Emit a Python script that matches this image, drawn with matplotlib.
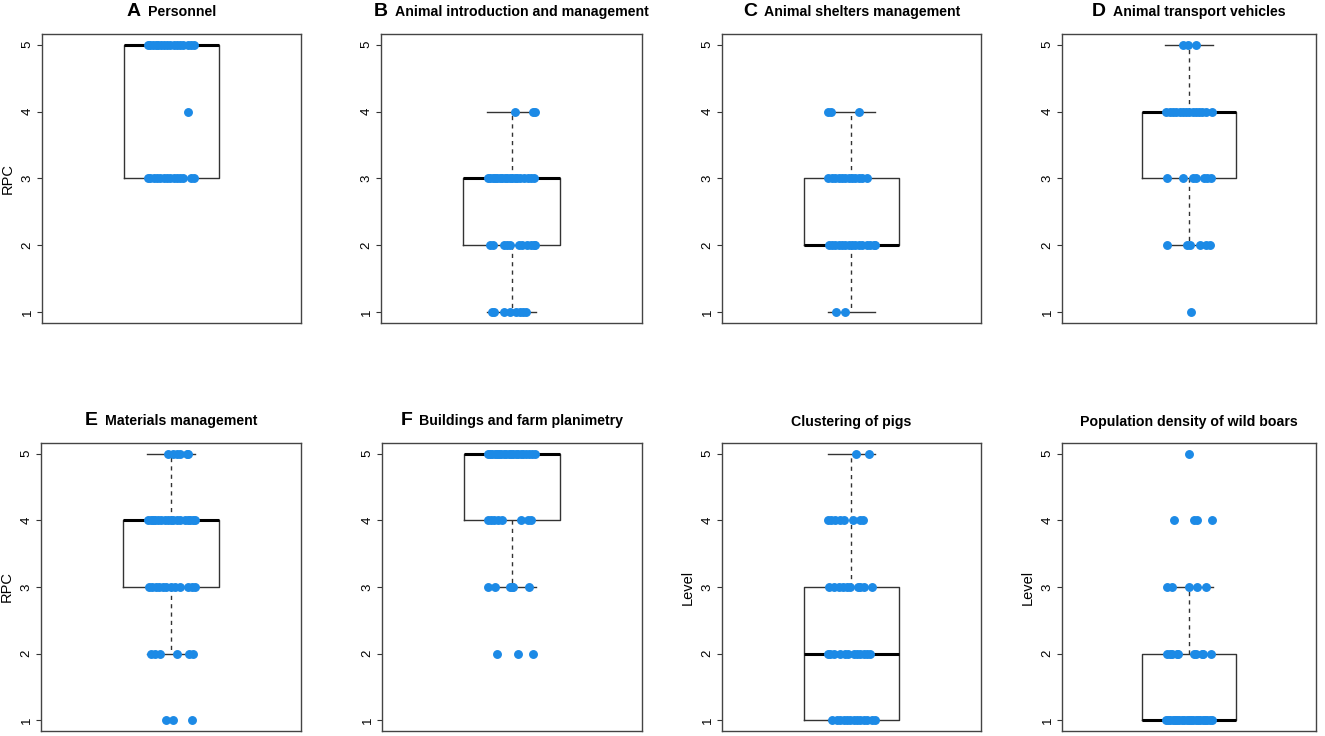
import math
import numpy as np
import matplotlib.pyplot as plt
from matplotlib.offsetbox import TextArea, HPacker, AnchoredOffsetbox

plt.rcParams['font.family'] = ['Liberation Sans', 'DejaVu Sans']

# panel letters, titles, y labels
letters = ["A", "B", "C", "D", "E", "F", "", ""]
titles = ["Personnel", "Animal introduction and management", "Animal shelters management",
          "Animal transport vehicles", "Materials management", "Buildings and farm planimetry",
          "Clustering of pigs", "Population density of wild boars"]
ylabels = ["RPC", "", "", "", "RPC", "", "Level", "Level"]

# jitter offsets, one list per score level (1..5)
jit_A = {5: [-0.098, -0.088, -0.077, -0.066, -0.055, -0.044, -0.033, -0.019, -0.005, 0.009, 0.023, 0.037, 0.048, 0.067, 0.081, 0.092],
         4: [0.067],
         3: [-0.098, -0.088, -0.074, -0.06, -0.047, -0.033, -0.019, -0.005, 0.009, 0.023, 0.037, 0.048, 0.081, 0.092]}
jit_B = {4: [0.016, 0.088, 0.097],
         3: [-0.098, -0.088, -0.078, -0.068, -0.058, -0.048, -0.038, -0.028, -0.018, -0.008, 0.004, 0.014, 0.024, 0.034, 0.05, 0.07, 0.08, 0.094],
         2: [-0.091, -0.077, -0.033, -0.019, -0.008, 0.03, 0.044, 0.065, 0.079, 0.092, 0.099],
         1: [-0.081, -0.074, -0.03, -0.008, 0.02, 0.034, 0.048, 0.062]}
jit_C = {4: [-0.1, -0.086, 0.03],
         3: [-0.098, -0.081, -0.067, -0.054, -0.04, -0.026, -0.012, 0.002, 0.016, 0.03, 0.044, 0.065],
         2: [-0.095, -0.081, -0.067, -0.054, -0.04, -0.026, -0.012, 0.002, 0.016, 0.03, 0.044, 0.065, 0.079, 0.092, 0.099],
         1: [-0.063, -0.029]}
jit_D = {5: [-0.026, -0.006, 0.029],
         4: [-0.096, -0.082, -0.068, -0.054, -0.04, -0.026, -0.013, 0.001, 0.015, 0.029, 0.043, 0.057, 0.071, 0.099],
         3: [-0.093, -0.026, 0.015, 0.029, 0.064, 0.078, 0.092],
         2: [-0.093, -0.008, 0.006, 0.047, 0.071, 0.089],
         1: [0.008]}
jit_E = {5: [-0.012, 0.009, 0.023, 0.037, 0.065, 0.072],
         4: [-0.095, -0.081, -0.074, -0.067, -0.054, -0.04, -0.026, -0.012, -0.002, 0.009, 0.023, 0.037, 0.058, 0.072, 0.081, 0.092, 0.099],
         3: [-0.091, -0.077, -0.063, -0.049, -0.035, -0.022, 0.002, 0.016, 0.037, 0.072, 0.086, 0.099],
         2: [-0.081, -0.067, -0.044, 0.023, 0.076, 0.09],
         1: [-0.019, 0.009, 0.086]}
jit_F = {5: [-0.098, -0.09, -0.081, -0.072, -0.062, -0.052, -0.044, -0.034, -0.024, -0.014, -0.004, 0.006, 0.016, 0.026, 0.036, 0.046, 0.058, 0.07, 0.082, 0.097],
         4: [-0.099, -0.088, -0.074, -0.06, -0.04, 0.037, 0.065, 0.079],
         3: [-0.098, -0.07, -0.008, -0.001, 0.006, 0.072],
         2: [-0.063, 0.023, 0.086]}
jit_G = {5: [0.019, 0.072],
         4: [-0.099, -0.086, -0.067, -0.047, -0.033, 0.006, 0.034, 0.047],
         3: [-0.092, -0.072, -0.054, -0.037, -0.019, -0.005, 0.026, 0.037, 0.051, 0.086],
         2: [-0.099, -0.091, -0.074, -0.047, -0.026, -0.016, 0.009, 0.023, 0.037, 0.051, 0.065, 0.079],
         1: [-0.081, -0.06, -0.047, -0.033, -0.019, -0.005, 0.009, 0.023, 0.037, 0.051, 0.065, 0.086, 0.099]}
jit_H = {5: [-0.001],
         4: [-0.065, 0.022, 0.033, 0.099],
         3: [-0.092, -0.071, 0.001, 0.033, 0.071],
         2: [-0.092, -0.082, -0.072, -0.05, -0.047, 0.022, 0.029, 0.054, 0.061, 0.095],
         1: [-0.099, -0.09, -0.08, -0.07, -0.061, -0.052, -0.042, -0.03, -0.02, -0.01, -0.002, 0.008, 0.018, 0.028, 0.038, 0.048, 0.058, 0.068, 0.078, 0.088, 0.099]}
panels = [jit_A, jit_B, jit_C, jit_D, jit_E, jit_F, jit_G, jit_H]

# axes rectangles in pixels (left, top, right, bottom)
W, H = 1325, 736
rects = [(42, 34, 301, 323), (381, 34, 642, 323), (722, 34, 981, 323), (1062, 34, 1316, 323),
         (41, 443, 301, 731), (382, 443, 642, 731), (722, 443, 981, 731), (1062, 443, 1316, 731)]

BLUE = "#1C8AE6"


def fivenum(v):
    v = sorted(v)
    n = len(v)
    n4 = math.floor((n + 3) / 2) / 2
    d = [1, n4, (n + 1) / 2, n + 1 - n4, n]
    return [0.5 * (v[math.floor(i) - 1] + v[math.ceil(i) - 1]) for i in d]


def box_stats(v):
    mn, q1, med, q3, mx = fivenum(v)
    iqr = q3 - q1
    inside = [x for x in v if q1 - 1.5 * iqr <= x <= q3 + 1.5 * iqr]
    return dict(med=med, q1=q1, q3=q3, whislo=min(inside), whishi=max(inside), fliers=[])


fig = plt.figure(figsize=(W / 100, H / 100), dpi=100)

for i, jit in enumerate(panels):
    l, t, r, b = rects[i]
    ax = fig.add_axes([l / W, 1 - b / H, (r - l) / W, (b - t) / H])
    vals, xs = [], []
    for lev, offs in jit.items():
        for o in offs:
            vals.append(lev)
            xs.append(1 + o)
    st = box_stats(vals)
    ax.bxp([st], positions=[1], widths=0.4, showfliers=False,
           boxprops=dict(color="#333333", lw=1),
           whiskerprops=dict(color="#333333", lw=1, linestyle=(0, (3, 3))),
           capprops=dict(color="#333333", lw=1),
           medianprops=dict(color="black", lw=2.2, solid_capstyle="butt"))
    ax.plot(xs, vals, 'o', color=BLUE, ms=5.4, mec=BLUE, zorder=5, clip_on=False)
    ax.set_xlim(0.46, 1.54)
    ax.set_ylim(0.84, 5.16)
    ax.set_xticks([])
    ax.set_yticks([1, 2, 3, 4, 5])
    ax.tick_params(axis='y', length=3.6, pad=2.5, labelsize=9.5, labelrotation=90, color="#333333")
    for lab in ax.get_yticklabels():
        lab.set_va('center')
    for s in ax.spines.values():
        s.set_color("#444444")
        s.set_linewidth(1)
    if ylabels[i]:
        ax.set_ylabel(ylabels[i], fontsize=10.5)
        ax.yaxis.set_label_coords(-27 / (r - l), 0.5)
    parts = []
    if letters[i]:
        parts.append(TextArea(letters[i], textprops=dict(fontsize=14, fontweight='bold')))
    parts.append(TextArea(titles[i], textprops=dict(fontsize=10.2, fontweight='bold')))
    pack = HPacker(children=parts, align="baseline", pad=0, sep=5)
    box = AnchoredOffsetbox(loc='lower center', child=pack, frameon=False, pad=0,
                            bbox_to_anchor=(0.5, 1.05), bbox_transform=ax.transAxes, borderpad=0)
    ax.add_artist(box)

fig.savefig("out.png", dpi=100)
